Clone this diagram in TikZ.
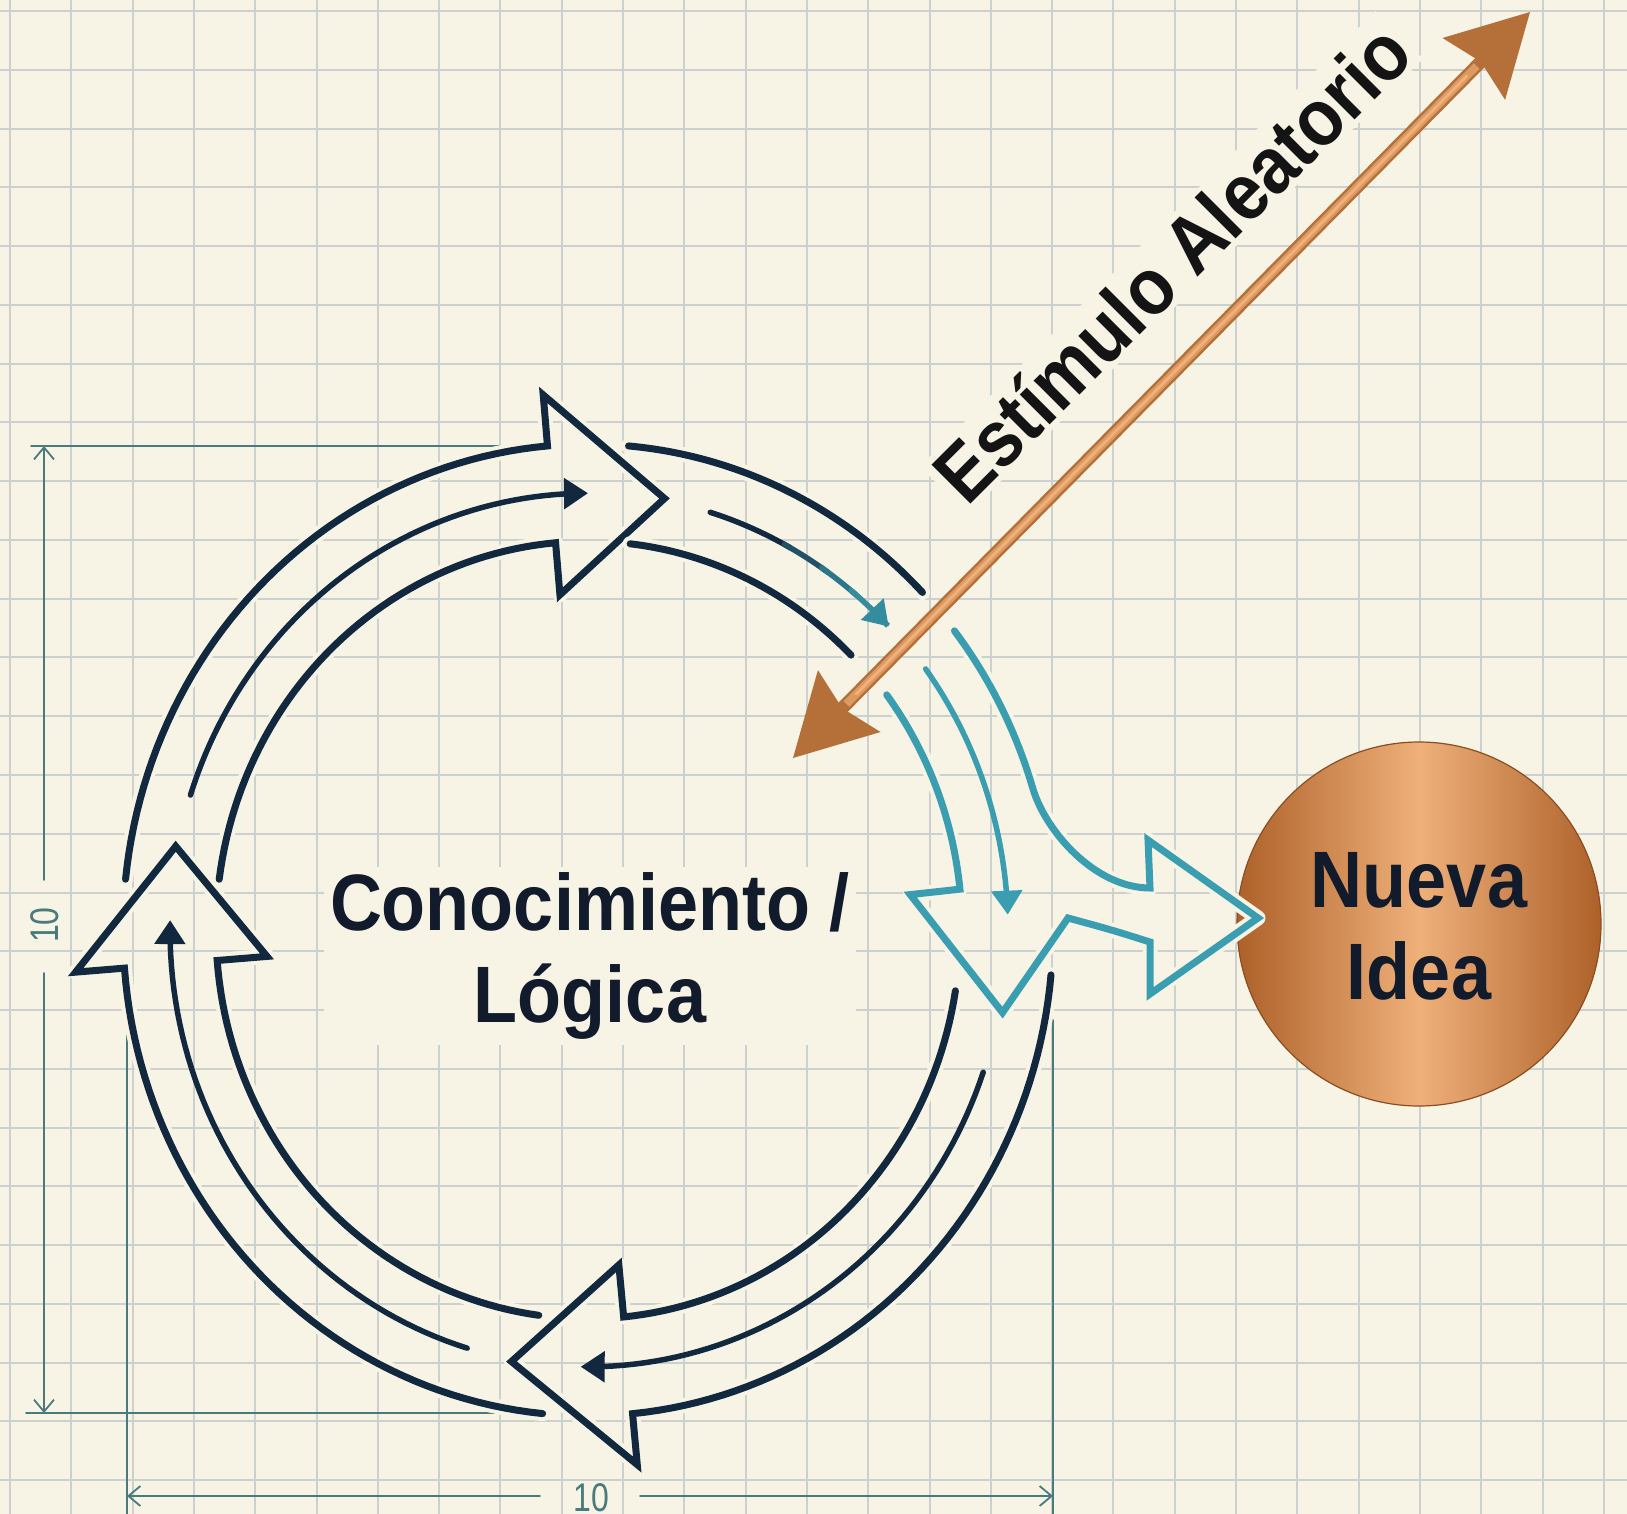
\documentclass[tikz,border=0pt]{standalone}
\usepackage{fontspec}
\usepackage{graphicx}
\setmainfont{Liberation Sans}
\usetikzlibrary{arrows.meta,calc}
\definecolor{paper}{HTML}{F7F4E5}
\definecolor{gridc}{HTML}{CBD1CE}
\definecolor{navy}{HTML}{12283F}
\definecolor{tealc}{HTML}{3B9EB0}
\definecolor{copper}{HTML}{B5703A}
\definecolor{coppermid}{HTML}{DB9A62}
\definecolor{copperlt}{HTML}{EFB07A}
\definecolor{copperdk}{HTML}{AD6129}
\definecolor{dimc}{HTML}{4A7A7E}
\definecolor{inkc}{HTML}{111B2B}
\tikzset{
  gridline/.style={draw=gridc, line width=2pt},
  band/.style={draw=navy, line width=7pt, line cap=round, line join=miter,
    preaction={draw=paper, line width=15pt, line join=round}},
  tband/.style={band, draw=tealc},
  midline/.style={draw=navy, line width=5.5pt, line cap=round,
    -{Triangle[length=24pt,width=30pt]}},
  tmid/.style={midline, draw=tealc},
  dimline/.style={draw=dimc, line width=1.8pt},
  dimtext/.style={text=dimc, font=\fontsize{40}{40}\selectfont, inner sep=0pt},
  bigtext/.style={text=inkc, font=\fontsize{80}{92}\selectfont\bfseries, inner sep=0pt},
}
\begin{document}
\begin{tikzpicture}[x=1pt,y=-1pt,line cap=round]
\useasboundingbox (0,0) rectangle (1627,1514);
\fill[paper] (0,0) rectangle (1627,1514);
% grid
\foreach \i in {0,...,26}{\draw[gridline] ({10+61.3*\i},0) -- ({10+61.3*\i},1514);}
\foreach \j in {0,...,25}{\draw[gridline] (0,{11+58.77*\j}) -- (1627,{11+58.77*\j});}

% dimension lines
\draw[dimline] (31,446) -- (508,446);
\draw[dimline] (26,1413) -- (519,1413);
\draw[dimline] (127,1013) -- (127,1514);
\draw[dimline] (1053,1020) -- (1053,1514);
\draw[dimline,-{Straight Barb[length=12pt,width=20pt]}] (44,880) -- (44,446);
\draw[dimline,-{Straight Barb[length=12pt,width=20pt]}] (44,973) -- (44,1413);
\node[dimtext, rotate=90] (dimv) at (45,925) {\scalebox{0.8}[1]{10}};
\draw[dimline,-{Straight Barb[length=12pt,width=20pt]}] (540,1496) -- (127,1496);
\draw[dimline,-{Straight Barb[length=12pt,width=20pt]}] (640,1496) -- (1053,1496);
\node[dimtext] (dimh) at (591,1498) {\scalebox{0.8}[1]{10}};

% new idea circle
\node[circle, minimum size=364pt, inner sep=0pt, draw=copperdk!80!black, line width=1.2pt,
  left color=copperdk, right color=copperdk, middle color=copperlt] (idea) at (1419,924) {};

\begin{scope}[shift={(588,930)}, y=-1.045pt, samples=50]
  % top-left segment
  \draw[band] plot[domain=186:265] (\x:465) -- (265:514) -- (280.5:420) -- (265:322)
     -- (265:372) -- plot[domain=265:187.5] (\x:372);
  \draw[midline] plot[domain=198:270] (\x:418);
  % top-right segment
  \draw[band] plot[domain=275:316] (\x:465);
  \draw[band] plot[domain=276.5:315] (\x:372);
  \draw[midline,-] plot[domain=287:299] (\x:418);
  \draw[midline,-,draw=navy!65!tealc] plot[domain=298:305] (\x:418);
  \draw[midline,-,draw=navy!35!tealc] plot[domain=304:310] (\x:418);
  \draw[midline,draw=tealc!85!navy] plot[domain=309:316] (\x:418);
  % teal branching arrow
  \draw[tband] plot[domain=322:343] (\x:465) .. controls (457.3,-94.6) and (507,-40.2) .. (562,-40.2)
     -- (560,-86.1) -- (670,-11.5) -- (562,61.2) -- (562,11.5) .. controls (524,0) .. (480,-11.5)
     -- (10.8:422) -- (354:324) -- (354:374) -- plot[domain=354:323] (\x:374);
  \draw[tmid] plot[domain=323.5:358] (\x:420);
  % bottom-right segment
  \draw[band] plot[domain=5.3:84.5] (\x:465) -- (84.5:514) -- (100.5:420) -- (84.5:322)
     -- (84.5:372) -- plot[domain=84.5:9] (\x:372);
  \draw[midline] plot[domain=19:91] (\x:418);
  % bottom-left segment
  \draw[band] plot[domain=95.6:175.5] (\x:465) -- (175.5:514) -- (191:420) -- (175.5:322)
     -- (175.5:372) -- plot[domain=175.5:97.6] (\x:372);
  \draw[midline] plot[domain=106.8:181.3] (\x:418);
\end{scope}

% texts
\node[bigtext, align=center, fill=paper, inner sep=6pt] (logic) at (590,956)
  {\scalebox{0.9}[1]{Conocimiento /}\\\scalebox{0.9}[1]{Lógica}};
\node[bigtext, align=center] (ideatext) at (1419,926)
  {\scalebox{0.9}[1]{Nueva}\\\scalebox{0.9}[1]{Idea}};
\node[bigtext, rotate=45, anchor=base, fill=paper, inner sep=4pt, text=black!92] (stimtext) at (1192,283)
  {\scalebox{0.9}[1]{Estímulo Aleatorio}};

% random stimulus arrow
\coordinate (stimlow) at (793,758);
\coordinate (stimhigh) at (1530,12);
\draw[copper, line width=13pt, line cap=butt,
  {Stealth[length=80pt,width=88pt,inset=10pt,line width=0pt]}-{Stealth[length=80pt,width=88pt,inset=10pt,line width=0pt]}]
  (stimlow) -- (stimhigh);
\draw[coppermid, line width=8pt, line cap=butt, shorten <=76pt, shorten >=76pt] (stimlow) -- (stimhigh);
\draw[copperlt, line width=3pt, shorten <=90pt, shorten >=90pt] (stimlow) -- (stimhigh);
\end{tikzpicture}
\end{document}
